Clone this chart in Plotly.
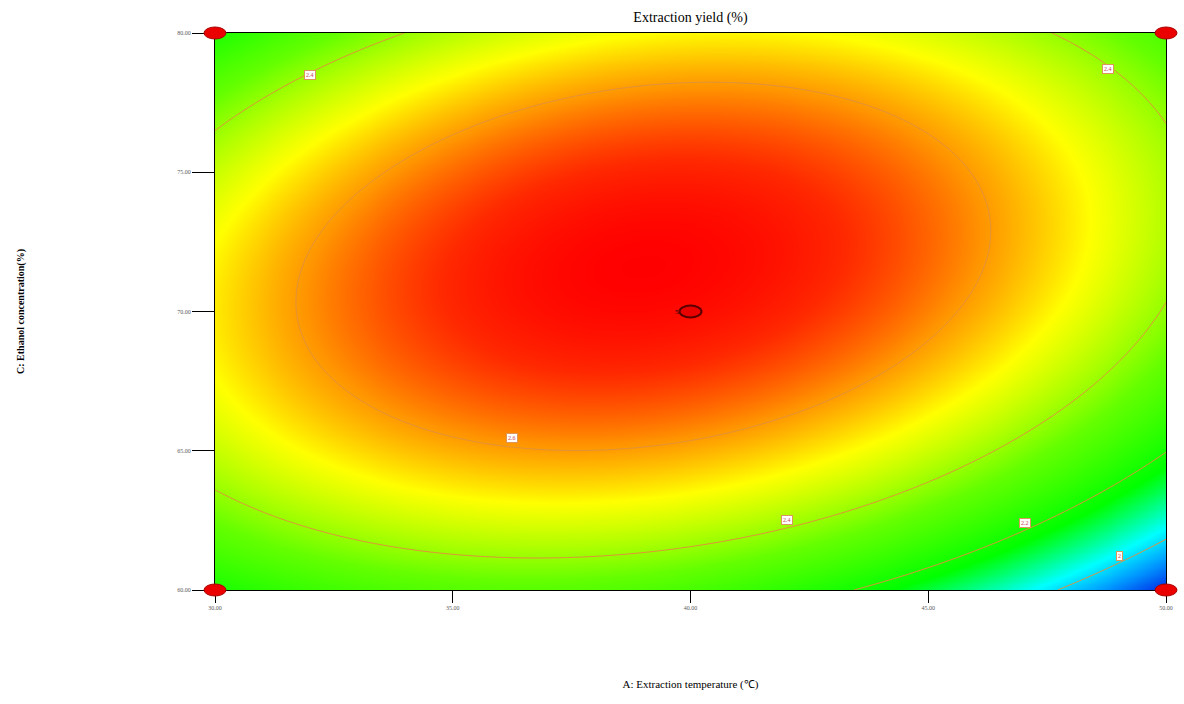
import numpy as np
import plotly.graph_objects as go

# ---- data ----
# quadratic response-surface model in coded units (A = (T-40)/10, C = (E-70)/10)
coef_b0 = 2.72
coef_A = -0.069
coef_C = 0.113
coef_AC = 0.110
coef_A2 = -0.258
coef_C2 = -0.315

temp_range = [30.0, 50.0]
ethanol_range = [60.0, 80.0]

x_ticks = [30, 35, 40, 45, 50]
x_ticklabels = ["30.00", "35.00", "40.00", "45.00", "50.00"]
y_ticks = [60, 65, 70, 75, 80]
y_ticklabels = ["60.00", "65.00", "70.00", "75.00", "80.00"]

contour_levels = [2.0, 2.2, 2.4, 2.6]

label_x = [32.0, 48.78, 36.25, 42.03, 47.03, 49.03]
label_y = [78.49, 78.71, 65.46, 62.51, 62.41, 61.22]
label_text = ["2.4", "2.4", "2.6", "2.4", "2.2", "2"]

design_x = [30, 30, 50, 50, 40]
design_y = [60, 80, 60, 80, 70]
center_reps = "5"

# ---- surface ----
T = np.linspace(temp_range[0], temp_range[1], 241)
E = np.linspace(ethanol_range[0], ethanol_range[1], 241)
TT, EE = np.meshgrid(T, E)
A = (TT - 40) / 10
C = (EE - 70) / 10
Z = (coef_b0 + coef_A * A + coef_C * C + coef_AC * A * C
     + coef_A2 * A ** 2 + coef_C2 * C ** 2)

zmin, zmax = float(Z.min()), float(Z.max())

colorscale = [
    [0.0, "rgb(0,40,230)"],
    [0.10, "rgb(0,150,255)"],
    [0.20, "rgb(0,255,255)"],
    [0.36, "rgb(0,255,0)"],
    [0.56, "rgb(100,255,0)"],
    [0.75, "rgb(255,255,0)"],
    [0.86, "rgb(255,145,0)"],
    [0.95, "rgb(255,40,0)"],
    [1.0, "rgb(255,0,0)"],
]

fig = go.Figure()
fig.add_trace(go.Contour(
    x=T, y=E, z=Z,
    colorscale=colorscale, zmin=zmin, zmax=zmax,
    showscale=False,
    contours=dict(coloring="heatmap", start=contour_levels[0],
                  end=contour_levels[-1], size=0.2, showlabels=False),
    line=dict(color="rgb(225,145,60)", width=1),
    hoverinfo="skip",
))

serif = "Liberation Serif, Times New Roman, serif"

# contour labels
for lx, ly, lt in zip(label_x, label_y, label_text):
    fig.add_annotation(x=lx, y=ly, text=lt, showarrow=False,
                       font=dict(family=serif, size=6, color="rgb(200,60,80)"),
                       bgcolor="white", bordercolor="rgb(220,150,90)",
                       borderwidth=1, borderpad=1)

# design points as ellipses (paper coords so they are not clipped)
W, H = 1184 - 215 - 18, 704 - 33 - 114
rx, ry = 11 / W, 6 / H
for i, (dx, dy) in enumerate(zip(design_x, design_y)):
    px = (dx - temp_range[0]) / (temp_range[1] - temp_range[0])
    py = (dy - ethanol_range[0]) / (ethanol_range[1] - ethanol_range[0])
    center = i == 4
    fig.add_shape(type="circle", xref="paper", yref="paper",
                  x0=px - rx, x1=px + rx, y0=py - ry, y1=py + ry,
                  fillcolor="rgb(235,0,0)",
                  line=dict(color="rgb(90,0,0)" if center else "rgb(170,0,0)",
                            width=2 if center else 1),
                  layer="above")
fig.add_annotation(x=design_x[4], y=design_y[4], text=center_reps, showarrow=False,
                   xshift=-14, font=dict(family=serif, size=7, color="black"))

fig.update_layout(
    width=1184, height=704,
    margin=dict(l=215, r=18, t=33, b=114),
    paper_bgcolor="white", plot_bgcolor="white",
    title=dict(text="Extraction yield (%)", x=0.5, xanchor="center",
               xref="paper", y=1 - 17 / 704, yanchor="middle",
               font=dict(family=serif, size=14, color="black")),
    showlegend=False,
)
fig.update_xaxes(range=temp_range, tickvals=x_ticks, ticktext=x_ticklabels,
                 ticks="outside", ticklen=12, tickcolor="black",
                 showline=True, linecolor="black", mirror=True, showgrid=False,
                 zeroline=False,
                 tickfont=dict(family=serif, size=6, color="rgb(90,90,90)"),
                 title=dict(text="A: Extraction temperature (℃)", standoff=70,
                            font=dict(family=serif, size=11, color="black")))
fig.update_yaxes(range=ethanol_range, tickvals=y_ticks, ticktext=y_ticklabels,
                 ticks="outside", ticklen=22, tickcolor="black",
                 showline=True, linecolor="black", mirror=True, showgrid=False,
                 zeroline=False,
                 tickfont=dict(family=serif, size=6, color="rgb(90,90,90)"),
                 title=dict(text="<b>C: Ethanol concentration(%)</b>", standoff=150,
                            font=dict(family=serif, size=10, color="black")))

fig.write_html("out.html")
